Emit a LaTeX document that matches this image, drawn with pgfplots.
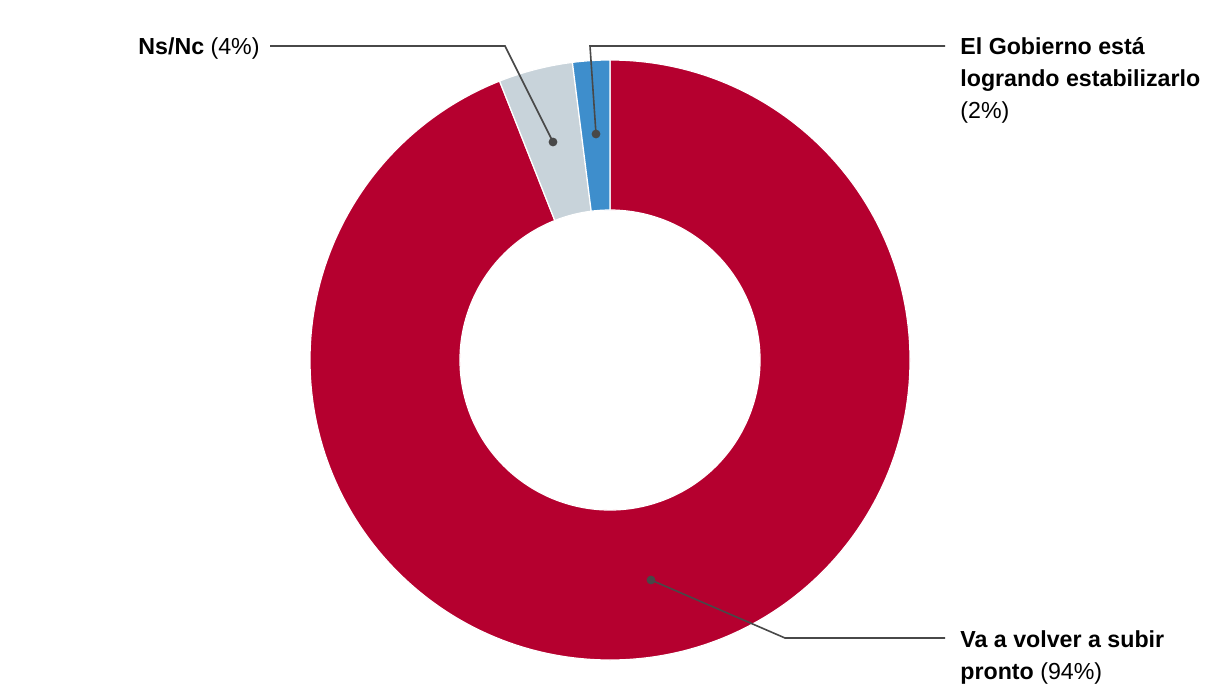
\documentclass[border=0pt]{standalone}
\usepackage{pgfplots}
\pgfplotsset{compat=1.18}
\usepackage{pgfplotstable}
\usepackage{fontspec}
\setmainfont{Liberation Sans}
\definecolor{cRed}{HTML}{B5002F}
\definecolor{cGrey}{HTML}{C8D3DA}
\definecolor{cBlue}{HTML}{3E8ECC}
\definecolor{cLine}{HTML}{484848}
\pgfplotstableread{
label value
Va 94
NsNc 4
Gob 2
}\slices
\newcommand\donutwedge[3]{%
  \fill[#3,draw=white,line width=0.6pt]
    ([shift={(#1:150pt)}]axis cs:610,360) arc[start angle=#1,end angle=#2,radius=150pt]
    -- ([shift={(#2:75pt)}]axis cs:610,360) arc[start angle=#2,end angle=#1,radius=75pt] -- cycle;}
\tikzset{lbl/.style={inner sep=0pt,font=\fontsize{11.6}{16}\selectfont}}
\begin{document}
\begin{tikzpicture}
\pgfplotstablegetelem{0}{value}\of\slices \let\va\pgfplotsretval
\pgfplotstablegetelem{1}{value}\of\slices \let\vb\pgfplotsretval
\pgfplotstablegetelem{2}{value}\of\slices \let\vc\pgfplotsretval
\pgfmathsetmacro{\aA}{90}
\pgfmathsetmacro{\aB}{90-3.6*\va}
\pgfmathsetmacro{\aC}{\aB-3.6*\vb}
\pgfmathsetmacro{\aD}{\aC-3.6*\vc}
\begin{axis}[width=610pt,height=350pt,scale only axis,
  xmin=0,xmax=1220,ymin=0,ymax=700,y dir=reverse,hide axis,clip=false]
\addplot[draw=none] coordinates {(0,0) (1220,700)};
\path (axis cs:0,0) rectangle (axis cs:1220,700);
\donutwedge{\aA}{\aB}{cRed}
\donutwedge{\aB}{\aC}{cGrey}
\donutwedge{\aC}{\aD}{cBlue}
% leader lines
\draw[cLine,line width=0.8pt] (axis cs:270,46) -- (axis cs:505,46) -- (axis cs:553,142);
\fill[cLine] (axis cs:553,142) circle[radius=2.2pt];
\draw[cLine,line width=0.8pt] (axis cs:945,46) -- (axis cs:590,46) -- (axis cs:596,134);
\fill[cLine] (axis cs:596,134) circle[radius=2.2pt];
\draw[cLine,line width=0.8pt] (axis cs:651,580) -- (axis cs:785,638) -- (axis cs:945,638);
\fill[cLine] (axis cs:651,580) circle[radius=2.2pt];
% labels
\node[lbl,anchor=base east] at (axis cs:260,55) {\textbf{Ns/Nc} (4\%)};
\node[lbl,anchor=base west] at (axis cs:960,55) {\textbf{El Gobierno está}};
\node[lbl,anchor=base west] at (axis cs:960,87) {\textbf{logrando estabilizarlo}};
\node[lbl,anchor=base west] at (axis cs:960,119) {(2\%)};
\node[lbl,anchor=base west] at (axis cs:960,647) {\textbf{Va a volver a subir}};
\node[lbl,anchor=base west] at (axis cs:960,679) {\textbf{pronto} (94\%)};
\end{axis}
\end{tikzpicture}
\end{document}
